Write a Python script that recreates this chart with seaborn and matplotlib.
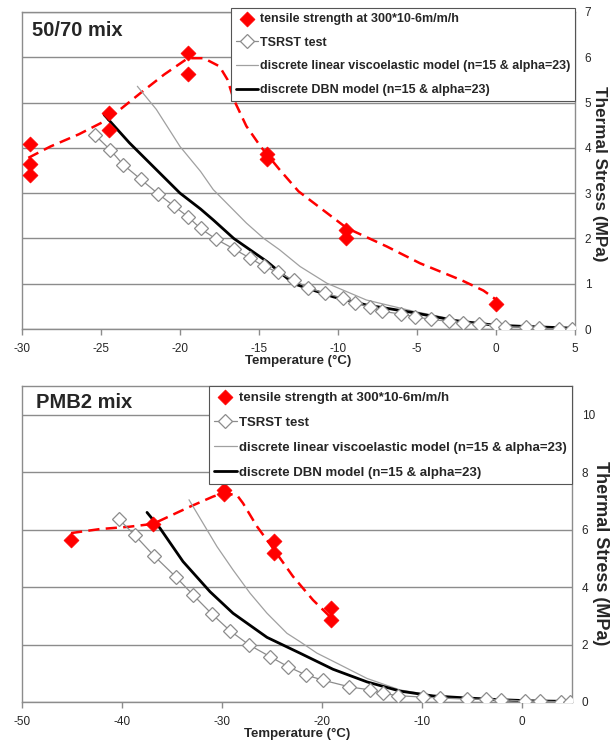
import numpy as np
import pandas as pd
import matplotlib.pyplot as plt
import seaborn as sns

sns.set_theme(style="white")
plt.rcParams['font.family'] = ['Liberation Sans', 'DejaVu Sans']
plt.rcParams['axes.unicode_minus'] = False

# ─────────────────────────────────────────────
# 50/70 mix data (temperature degC, thermal stress MPa)
# ─────────────────────────────────────────────
top_tensile_T = [-29.5, -29.5, -29.5, -24.5, -24.5, -19.5, -19.5, -14.5, -14.5, -9.5, -9.5, 0.0]
top_tensile_S = [4.09, 3.65, 3.40, 4.78, 4.40, 6.10, 5.64, 3.87, 3.76, 2.19, 2.00, 0.55]

top_trend_T = [-29.6, -28.2, -26.4, -24.6, -22.5, -21.0, -19.5, -18.5, -17.5, -17.0, -16.6,
               -15.8, -14.9, -13.7, -12.5, -9.45, -6.9, -4.8, -2.2, -0.8, 0.0]
top_trend_S = [3.78, 4.03, 4.30, 4.62, 5.21, 5.62, 5.98, 5.98, 5.80, 5.51, 5.07,
               4.48, 4.03, 3.52, 3.04, 2.23, 1.82, 1.45, 1.08, 0.85, 0.65]

top_tsrst_T = [-25.4, -24.4, -23.6, -22.5, -21.4, -20.4, -19.5, -18.7, -17.7, -16.6, -15.6,
               -14.7, -13.8, -12.8, -11.9, -10.8, -9.7, -8.9, -8.0, -7.2, -6.0, -5.1, -4.1,
               -3.0, -2.1, -1.1, 0.0, 0.6, 1.9, 2.7, 4.0, 4.8]
top_tsrst_S = [4.29, 3.95, 3.63, 3.31, 2.99, 2.72, 2.48, 2.22, 1.98, 1.77, 1.57,
               1.39, 1.25, 1.08, 0.91, 0.79, 0.68, 0.57, 0.49, 0.39, 0.33, 0.27, 0.21,
               0.17, 0.14, 0.11, 0.09, 0.05, 0.04, 0.02, 0.0, 0.0]

top_lve_T = [-22.7, -21.5, -20.0, -18.7, -17.9, -15.8, -14.7, -13.7, -12.4, -10.7, -8.2,
             -5.2, -2.5, 0.0, 4.8]
top_lve_S = [5.36, 4.85, 4.03, 3.48, 3.08, 2.34, 2.00, 1.75, 1.38, 1.01, 0.64,
             0.39, 0.20, 0.10, 0.02]

top_dbn_T = [-24.8, -23.2, -21.5, -20.0, -18.7, -17.9, -16.6, -14.5, -12.8, -10.3, -8.2,
             -5.2, -2.5, 0.0, 4.8]
top_dbn_S = [4.73, 4.11, 3.52, 3.00, 2.65, 2.41, 2.00, 1.49, 1.00, 0.71, 0.53,
             0.36, 0.18, 0.08, 0.02]

# ─────────────────────────────────────────────
# PMB2 mix data
# ─────────────────────────────────────────────
bot_tensile_T = [-45.1, -36.9, -29.8, -29.8, -24.8, -24.8, -19.1, -19.1]
bot_tensile_S = [5.64, 6.20, 7.39, 7.25, 5.59, 5.20, 3.26, 2.86]

bot_trend_T = [-45.1, -42.2, -39.3, -36.9, -33.2, -30.9, -29.9, -28.5, -27.9, -26.5,
               -24.9, -22.9, -20.9, -19.2]
bot_trend_S = [5.88, 6.02, 6.10, 6.20, 6.80, 7.15, 7.27, 7.20, 6.92, 6.11,
               5.35, 4.37, 3.55, 2.97]

bot_tsrst_T = [-40.3, -38.7, -36.8, -34.6, -32.9, -31.0, -29.2, -27.3, -25.2, -23.4,
               -21.6, -19.9, -17.3, -15.2, -13.9, -12.4, -9.9, -8.2, -5.5, -3.6,
               -2.1, 0.3, 1.8, 3.9, 4.8]
bot_tsrst_S = [6.36, 5.80, 5.09, 4.35, 3.73, 3.06, 2.48, 1.99, 1.58, 1.23,
               0.94, 0.76, 0.53, 0.42, 0.30, 0.22, 0.17, 0.14, 0.10, 0.09,
               0.08, 0.03, 0.03, 0.01, 0.01]

bot_lve_T = [-33.3, -32.2, -30.5, -28.9, -27.2, -25.5, -23.5, -22.2, -20.5, -18.9,
             -17.2, -15.5, -12.2, -8.9, -5.5, -2.2, 1.0, 4.8]
bot_lve_S = [7.04, 6.40, 5.41, 4.60, 3.79, 3.09, 2.39, 2.10, 1.70, 1.42,
             1.12, 0.82, 0.42, 0.23, 0.14, 0.08, 0.04, 0.02]

bot_dbn_T = [-37.5, -36.2, -33.9, -31.2, -28.9, -25.5, -22.2, -18.9, -15.5, -12.2,
             -8.9, -5.5, -2.2, 1.0, 4.8]
bot_dbn_S = [6.60, 6.05, 4.89, 3.84, 3.09, 2.25, 1.70, 1.14, 0.70, 0.38,
             0.21, 0.14, 0.08, 0.04, 0.02]

labels = ['tensile strength at 300*10-6m/m/h',
          'TSRST test',
          'discrete linear viscoelastic model (n=15 & alpha=23)',
          'discrete DBN model (n=15 & alpha=23)']

GRID = '#8c8c8c'

fig = plt.figure(figsize=(6.12, 7.42), dpi=100)
ax_top = fig.add_axes([22/612, 1 - 329/742, (575 - 22)/612, (329 - 12)/742])
ax_bot = fig.add_axes([22/612, 1 - 702/742, (572 - 22)/612, (702 - 386)/742])


def draw_panel(ax, trend_T, trend_S, tens_T, tens_S, tsrst_T, tsrst_S,
               lve_T, lve_S, dbn_T, dbn_S):
    sns.lineplot(x=trend_T, y=trend_S, ax=ax, color='red', lw=1.8,
                 sort=False, estimator=None, linestyle=(0, (4.5, 2.5)), zorder=3)
    sns.lineplot(x=lve_T, y=lve_S, ax=ax, color='#a0a0a0', lw=0.9, sort=False,
                 estimator=None, label=labels[2], zorder=4)
    sns.lineplot(x=dbn_T, y=dbn_S, ax=ax, color='black', lw=2.0, sort=False,
                 estimator=None, label=labels[3], zorder=5)
    sns.lineplot(x=tsrst_T, y=tsrst_S, ax=ax, color='#8c8c8c', lw=0.9, sort=False,
                 estimator=None, marker='D', markersize=7, markerfacecolor='white',
                 markeredgecolor='#8c8c8c', markeredgewidth=0.9, label=labels[1],
                 zorder=6)
    sns.scatterplot(x=tens_T, y=tens_S, ax=ax, color='red', marker='D', s=58,
                    edgecolor='red', linewidth=0.5, label=labels[0], zorder=7)


draw_panel(ax_top, top_trend_T, top_trend_S, top_tensile_T, top_tensile_S,
           top_tsrst_T, top_tsrst_S, top_lve_T, top_lve_S, top_dbn_T, top_dbn_S)
draw_panel(ax_bot, bot_trend_T, bot_trend_S, bot_tensile_T, bot_tensile_S,
           bot_tsrst_T, bot_tsrst_S, bot_lve_T, bot_lve_S, bot_dbn_T, bot_dbn_S)

panel_cfg = [
    (ax_top, (-30, 5), np.arange(-30, 6, 5), (0, 7), np.arange(0, 8, 1), '50/70 mix',
     (32/612, 1 - 30/742), (575/612, 1 - 8/742), 9.0, 12.3, 1 - 174/742, 0.93),
    (ax_bot, (-50, 5), np.arange(-50, 1, 10), (0, 11), np.arange(0, 11, 2), 'PMB2 mix',
     (36/612, 1 - 403/742), (572/612, 1 - 386/742), 9.5, 13.0, 1 - 553/742, 0.97),
]

for ax, xlim, xt, ylim, yt, title, tpos, lpos, lfs, yfs, ylab_y, lsp in panel_cfg:
    ax.set_xlim(*xlim)
    ax.set_ylim(*ylim)
    ax.set_xticks(xt)
    ax.set_yticks(yt)
    ax.yaxis.tick_right()
    ax.grid(axis='y', color=GRID, lw=1.0)
    ax.grid(axis='x', visible=False)
    ax.set_axisbelow(True)
    for sp in ax.spines.values():
        sp.set_color(GRID)
        sp.set_linewidth(1.0)
    ax.tick_params(axis='x', bottom=True, length=4, width=1, color=GRID,
                   labelsize=8.5, pad=6)
    ax.tick_params(axis='y', right=False, left=False, length=0, labelsize=8.5, pad=7)
    ax.set_xlabel('Temperature (°C)', fontsize=9.5, fontweight='bold', labelpad=0)
    ax.set_ylabel('')
    fig.text(600/612, ylab_y, 'Thermal Stress (MPa)', fontsize=yfs,
             fontweight='bold', rotation=270, ha='center', va='center')
    fig.text(tpos[0], tpos[1], title, fontsize=14.5, fontweight='bold',
             ha='left', va='center')

    handles, labs = ax.get_legend_handles_labels()
    order = [labs.index(l) for l in labels]
    leg = ax.legend([handles[i] for i in order], [labs[i] for i in order],
                    loc='upper right', bbox_to_anchor=lpos,
                    bbox_transform=fig.transFigure, borderaxespad=0,
                    fancybox=False, framealpha=1, edgecolor='#555555',
                    prop={'size': lfs, 'weight': 'bold'},
                    handlelength=1.75, handletextpad=0.15, labelspacing=lsp,
                    borderpad=0.4)
    leg.get_frame().set_linewidth(0.8)
    leg.set_zorder(10)

plt.savefig('out.png', dpi=100)
